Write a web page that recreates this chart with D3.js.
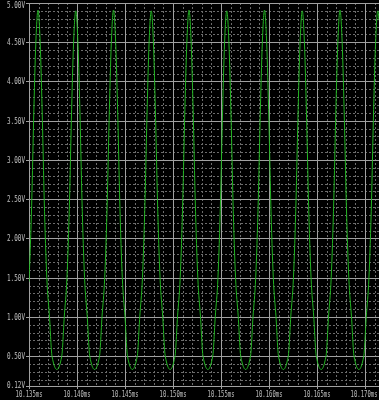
<html lang="en">
<head>
<meta charset="UTF-8">
<title>Transient</title>
<script src="https://d3js.org/d3.v7.min.js"></script>
<style>
  body { margin: 0; background: #000; }
  svg { display: block; background: #000; }
  .lbl { font-family: "DejaVu Sans Mono", monospace; font-size: 8px; fill: #c0c0c0; }
  .labels { opacity: 0.99; will-change: transform; }
</style>
</head>
<body>
<svg id="chart" width="379" height="400"></svg>
<script>

// axis labels
var xTicks = [10.135, 10.140, 10.145, 10.150, 10.155, 10.160, 10.165, 10.170];
var xTickLabels = ["10.135ms", "10.140ms", "10.145ms", "10.150ms", "10.155ms", "10.160ms", "10.165ms", "10.170ms"];
var yTicks = [5.00, 4.50, 4.00, 3.50, 3.00, 2.50, 2.00, 1.50, 1.00, 0.50, 0.12];
var yTickLabels = ["5.00V", "4.50V", "4.00V", "3.50V", "3.00V", "2.50V", "2.00V", "1.50V", "1.00V", "0.50V", "0.12V"];

// trace samples (time in ms, volts), one row per cycle
var traceT = [
  10.135000, 10.135292, 10.135480, 10.135714, 10.135938, 10.136162, 10.136396, 10.136584, 10.136855, 10.137136, 10.137396, 10.137904,
  10.138412, 10.138672, 10.138953, 10.139224, 10.139412, 10.139646, 10.139870, 10.140094, 10.140328, 10.140516, 10.140787, 10.141068, 10.141328, 10.141836,
  10.142344, 10.142604, 10.142885, 10.143156, 10.143344, 10.143578, 10.143802, 10.144026, 10.144260, 10.144448, 10.144719, 10.145000, 10.145260, 10.145768,
  10.146276, 10.146536, 10.146817, 10.147088, 10.147276, 10.147510, 10.147734, 10.147958, 10.148192, 10.148380, 10.148651, 10.148932, 10.149192, 10.149700,
  10.150209, 10.150469, 10.150750, 10.151021, 10.151209, 10.151443, 10.151667, 10.151891, 10.152125, 10.152313, 10.152584, 10.152865, 10.153125, 10.153633,
  10.154141, 10.154401, 10.154682, 10.154953, 10.155141, 10.155375, 10.155599, 10.155823, 10.156057, 10.156245, 10.156516, 10.156797, 10.157057, 10.157565,
  10.158073, 10.158333, 10.158614, 10.158885, 10.159073, 10.159307, 10.159531, 10.159755, 10.159989, 10.160177, 10.160448, 10.160729, 10.160989, 10.161497,
  10.162006, 10.162266, 10.162547, 10.162818, 10.163006, 10.163240, 10.163464, 10.163688, 10.163922, 10.164110, 10.164381, 10.164662, 10.164922, 10.165430,
  10.165938, 10.166198, 10.166479, 10.166750, 10.166938, 10.167172, 10.167396, 10.167620, 10.167854, 10.168042, 10.168313, 10.168594, 10.168854, 10.169362,
  10.169870, 10.170130, 10.170411, 10.170682, 10.170870, 10.171104, 10.171328, 10.171458
];
var traceV = [
  1.45, 2.5, 3.5, 4.5, 4.91, 4.5, 3.5, 2.5, 1.5, 1.0, 0.5, 0.33,
  0.5, 1.0, 1.5, 2.5, 3.5, 4.5, 4.90, 4.5, 3.5, 2.5, 1.5, 1.0, 0.5, 0.33,
  0.5, 1.0, 1.5, 2.5, 3.5, 4.5, 4.91, 4.5, 3.5, 2.5, 1.5, 1.0, 0.5, 0.33,
  0.5, 1.0, 1.5, 2.5, 3.5, 4.5, 4.90, 4.5, 3.5, 2.5, 1.5, 1.0, 0.5, 0.33,
  0.5, 1.0, 1.5, 2.5, 3.5, 4.5, 4.91, 4.5, 3.5, 2.5, 1.5, 1.0, 0.5, 0.33,
  0.5, 1.0, 1.5, 2.5, 3.5, 4.5, 4.90, 4.5, 3.5, 2.5, 1.5, 1.0, 0.5, 0.33,
  0.5, 1.0, 1.5, 2.5, 3.5, 4.5, 4.91, 4.5, 3.5, 2.5, 1.5, 1.0, 0.5, 0.33,
  0.5, 1.0, 1.5, 2.5, 3.5, 4.5, 4.90, 4.5, 3.5, 2.5, 1.5, 1.0, 0.5, 0.33,
  0.5, 1.0, 1.5, 2.5, 3.5, 4.5, 4.91, 4.5, 3.5, 2.5, 1.5, 1.0, 0.5, 0.33,
  0.5, 1.0, 1.5, 2.5, 3.5, 4.5, 4.90, 4.78
];

var svg = d3.select("#chart");
var plotL = 29, plotR = 379, plotT = 3, plotB = 386;

var x = d3.scaleLinear().domain([10.135, 10.171458]).range([plotL, plotR]);
var y = d3.scaleLinear().domain([0.12, 5.0]).range([plotB, plotT]);

// minor grid (dotted), between the labelled lines
var xMinor = d3.range(10.136, 10.1715, 0.001).filter(function(t) {
  return Math.abs(Math.round(t * 200) - t * 200) > 1e-6;
});
var yMinor = d3.range(0.2, 5.0, 0.1).filter(function(v) {
  return Math.abs(Math.round(v * 2) - v * 2) > 1e-6;
});

var grid = svg.append("g");

grid.selectAll(".vminor").data(xMinor).enter().append("line")
  .attr("x1", function(d) { return Math.round(x(d)) + 0.5; })
  .attr("x2", function(d) { return Math.round(x(d)) + 0.5; })
  .attr("y1", plotT).attr("y2", plotB)
  .attr("stroke", "#6c6c6c").attr("stroke-dasharray", "2,2");

grid.selectAll(".hminor").data(yMinor).enter().append("line")
  .attr("y1", function(d) { return Math.round(y(d)) + 0.5; })
  .attr("y2", function(d) { return Math.round(y(d)) + 0.5; })
  .attr("x1", plotL).attr("x2", plotR)
  .attr("stroke", "#6c6c6c").attr("stroke-dasharray", "2,2");

// major grid
grid.selectAll(".vmajor").data(xTicks).enter().append("line")
  .attr("x1", function(d) { return Math.round(x(d)) + 0.5; })
  .attr("x2", function(d) { return Math.round(x(d)) + 0.5; })
  .attr("y1", plotT).attr("y2", plotB + 3)
  .attr("stroke", "#a0a0a0");

grid.selectAll(".hmajor").data(yTicks).enter().append("line")
  .attr("y1", function(d) { return Math.round(y(d)) + 0.5; })
  .attr("y2", function(d) { return Math.round(y(d)) + 0.5; })
  .attr("x1", plotL - 3).attr("x2", plotR)
  .attr("stroke", "#a0a0a0");

// trace
var pts = traceT.map(function(t, i) { return [t, traceV[i]]; });

svg.append("clipPath").attr("id", "clip")
  .append("rect").attr("x", plotL).attr("y", 0).attr("width", plotR - plotL).attr("height", plotB);

svg.append("path")
  .datum(pts)
  .attr("clip-path", "url(#clip)")
  .attr("fill", "none")
  .attr("stroke", "#22b422")
  .attr("stroke-width", 1)
  .attr("d", d3.line()
    .x(function(d) { return x(d[0]); })
    .y(function(d) { return y(d[1]); })
    .curve(d3.curveMonotoneX));

// labels
var labels = svg.append("g").attr("class", "labels");

labels.selectAll(".ylbl").data(yTicks).enter().append("text")
  .attr("class", "lbl")
  .attr("x", 25)
  .attr("y", function(d) { return Math.min(388, Math.max(8, Math.round(y(d)) + 3)); })
  .attr("text-anchor", "end")
  .attr("textLength", 18)
  .attr("lengthAdjust", "spacingAndGlyphs")
  .text(function(d, i) { return yTickLabels[i]; });

labels.selectAll(".xlbl").data(xTicks).enter().append("text")
  .attr("class", "lbl")
  .attr("x", function(d) { return Math.min(x(d), 364); })
  .attr("y", 397)
  .attr("text-anchor", "middle")
  .attr("textLength", 27)
  .attr("lengthAdjust", "spacingAndGlyphs")
  .text(function(d, i) { return xTickLabels[i]; });

</script>
</body>
</html>
